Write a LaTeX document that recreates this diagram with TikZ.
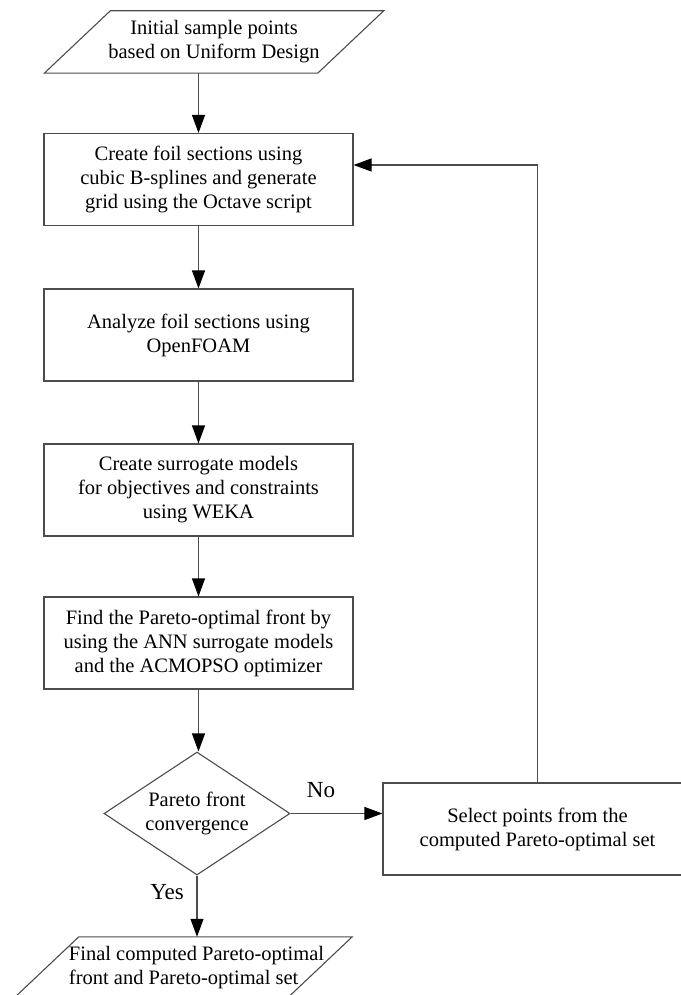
\documentclass[tikz,border=0pt]{standalone}
\usepackage{fontspec}
\setmainfont{Liberation Serif}
\usetikzlibrary{arrows.meta,shapes.geometric}

\def\boxwidth{309pt}
\def\boxheight{92pt}

\tikzset{
  procbox/.style={draw=black!70, line width=1.1pt, minimum width=\boxwidth,
    minimum height=\boxheight, align=center, inner sep=0pt},
  iobox/.style={minimum width=273pt, minimum height=62pt, inner sep=0pt},
  decision/.style={diamond, draw=black!70, line width=1.1pt, minimum width=186pt,
    minimum height=123pt, shape aspect=1.5, align=center, inner sep=0pt},
  flow/.style={draw=black!70, line width=1.1pt, -{Triangle[length=18pt,width=13pt,black]}},
  answer/.style={font=\fontsize{23pt}{26pt}\selectfont},
}

\begin{document}
\begin{tikzpicture}[x=1pt, y=-1pt, font=\fontsize{20.5pt}{24pt}\selectfont]
    \useasboundingbox (0,0) rectangle (680,995);

    % input / output
    \node[iobox, align=center] (init) at (214,42) {Initial sample points\\based on Uniform Design};
    \node[iobox, align=left] (final) at (196.5,968) {Final computed Pareto-optimal\\front and Pareto-optimal set};
    \foreach \n/\top/\bot in {init/33/-33,final/19/-47} {
      \draw[draw=black!70, line width=1.1pt] ([xshift=\top pt]\n.north west) -- ([xshift=\top pt]\n.north east)
        -- ([xshift=\bot pt]\n.south east) -- ([xshift=\bot pt]\n.south west) -- cycle;
    }

    % process steps
    \foreach \n/\y/\txt in {box1/179.5/{Create foil sections using\\cubic B-splines and generate\\grid using the Octave script},
        box2/335/{Analyze foil sections using\\OpenFOAM},
        box3/490/{Create surrogate models\\for objectives and constraints\\using WEKA},
        box4/643/{Find the Pareto-optimal front by\\using the ANN surrogate models\\and the ACMOPSO optimizer}} {
      \node[procbox] (\n) at (198.5,\y) {\txt};
    }
    \node[decision] (conv) at (197,813.5) {Pareto front\\convergence};
    \node[procbox] (select) at (537.5,829) {Select points from the\\computed Pareto-optimal set};

    \node[answer] (lblno) at (321,790) {No};
    \node[answer] (lblyes) at (167,892) {Yes};

    % connectors
    \draw[flow] (box1.north |- init.south) -- (box1.north);
    \foreach \a/\b in {box1/box2,box2/box3,box3/box4} {
      \draw[flow] (\a.south) -- (\b.north);
    }
    \draw[flow] (box4.south) -- (box4.south |- conv.north);
    \draw[flow] (conv.east) -- (conv.east -| select.west);
    \draw[flow] (conv.south) -- (conv.south |- final.north);
    \draw[flow] (select.north) |- ([yshift=14.5pt]box1.east);
\end{tikzpicture}
\end{document}
